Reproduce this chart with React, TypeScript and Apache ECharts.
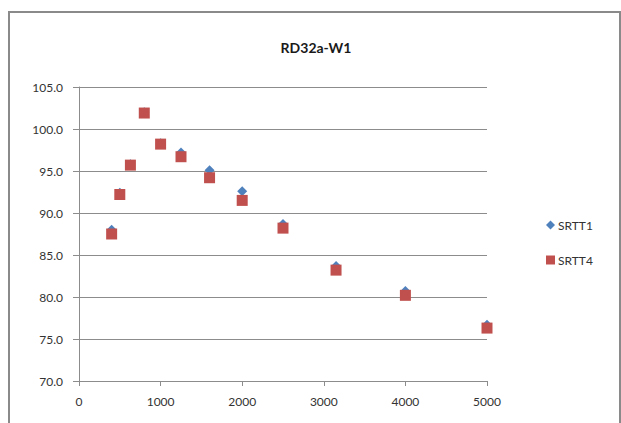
import React, { useEffect, useRef } from "react";
import * as echarts from "echarts";

const frequencies = [400, 500, 630, 800, 1000, 1250, 1600, 2000, 2500, 3150, 4000, 5000];
const srtt1 = [88.0, 92.4, 95.8, 102.0, 98.3, 97.2, 95.1, 92.6, 88.7, 83.7, 80.7, 76.7];
const srtt4 = [87.5, 92.2, 95.7, 101.9, 98.2, 96.7, 94.2, 91.5, 88.2, 83.2, 80.2, 76.3];
const titleText = "RD32a-W1";
const seriesNames = ["SRTT1", "SRTT4"];

const FONT = "Lato, 'Open Sans', sans-serif";

export default function App() {
  const ref = useRef<HTMLDivElement>(null);
  useEffect(() => {
    if (!ref.current) return;
    const chart = echarts.init(ref.current, undefined, { renderer: "svg" });
    chart.setOption({
      animation: false,
      backgroundColor: "#ffffff",
      textStyle: { fontFamily: FONT },
      title: {
        text: titleText,
        left: 311,
        textAlign: "center",
        top: 35,
        textStyle: { fontSize: 14, fontWeight: "bold", color: "#1a1a1a", fontFamily: FONT },
      },
      graphic: [
        {
          type: "rect",
          shape: { x: 9, y: 12, width: 611, height: 420 },
          style: { fill: "none", stroke: "#8a8a8a", lineWidth: 2 },
          silent: true,
          z: -1,
        },
      ],
      legend: {
        orient: "vertical",
        left: 541,
        top: 214,
        itemGap: 23,
        itemWidth: 9,
        itemHeight: 9,
        textStyle: { fontSize: 12, color: "#333333", fontFamily: FONT, padding: [0, 0, 0, -2] },
        data: seriesNames,
      },
      grid: { left: 79, right: 134, top: 87, bottom: 42 },
      xAxis: {
        type: "value",
        min: 0,
        max: 5000,
        interval: 1000,
        axisLine: { show: true, lineStyle: { color: "#8c8c8c", width: 1 } },
        axisTick: { show: true, length: 5, lineStyle: { color: "#8c8c8c" } },
        axisLabel: {
          fontSize: 12,
          color: "#333333",
          margin: 14,
          fontFamily: FONT,
          formatter: (v: number) => String(v),
        },
        splitLine: { show: false },
      },
      yAxis: {
        type: "value",
        min: 70,
        max: 105,
        interval: 5,
        axisLine: { show: true, lineStyle: { color: "#8c8c8c", width: 1 } },
        axisTick: { show: true, length: 6, lineStyle: { color: "#8c8c8c" } },
        axisLabel: {
          fontSize: 12,
          color: "#333333",
          margin: 16,
          fontFamily: FONT,
          formatter: (v: number) => v.toFixed(1),
        },
        splitLine: { show: true, lineStyle: { color: "#8c8c8c", width: 1 } },
      },
      series: [
        {
          name: seriesNames[0],
          type: "scatter",
          symbol: "diamond",
          symbolSize: 10,
          itemStyle: { color: "#4F81BD", opacity: 1 },
          data: frequencies.map((f, i) => [f, srtt1[i]]),
          z: 2,
        },
        {
          name: seriesNames[1],
          type: "scatter",
          symbol: "rect",
          symbolSize: 11,
          itemStyle: { color: "#C0504D", opacity: 1 },
          data: frequencies.map((f, i) => [f, srtt4[i]]),
          z: 3,
        },
      ],
    });
    return () => chart.dispose();
  }, []);
  return (
    <div
      ref={ref}
      style={{ position: "fixed", left: 0, top: 0, width: 621, height: 423 }}
    />
  );
}
